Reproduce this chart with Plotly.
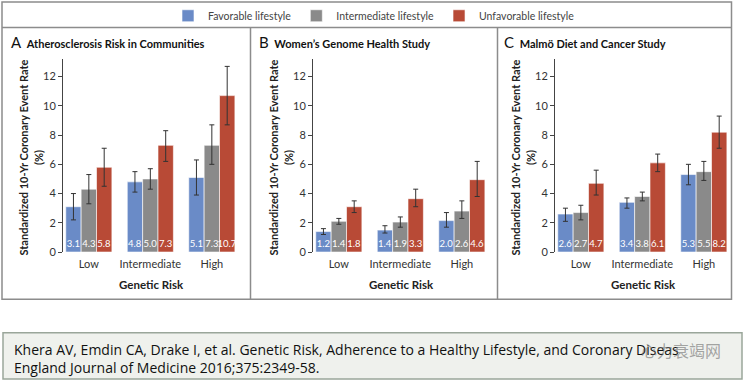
import plotly.graph_objects as go

W, H = 748, 388

categories = ["Low", "Intermediate", "High"]
series_names = ["Favorable lifestyle", "Intermediate lifestyle", "Unfavorable lifestyle"]
colors = ["#6a8bc7", "#8a8a8a", "#b84a36"]

panel_titles = ["Atherosclerosis Risk in Communities", "Women\u2019s Genome Health Study", "Malmö Diet and Cancer Study"]
panel_letters = ["A", "B", "C"]

# bar heights as drawn [panel][series][category]
heights_A = [[3.1, 4.8, 5.1], [4.3, 5.0, 7.3], [5.8, 7.3, 10.7]]
heights_B = [[1.4, 1.5, 2.15], [2.1, 2.05, 2.8], [3.1, 3.65, 4.95]]
heights_C = [[2.6, 3.4, 5.3], [2.7, 3.8, 5.5], [4.7, 6.1, 8.2]]

# printed labels
labels_A = [["3.1", "4.8", "5.1"], ["4.3", "5.0", "7.3"], ["5.8", "7.3", "10.7"]]
labels_B = [["1.2", "1.4", "2.0"], ["1.4", "1.9", "2.6"], ["1.8", "3.3", "4.6"]]
labels_C = [["2.6", "3.4", "5.3"], ["2.7", "3.8", "5.5"], ["4.7", "6.1", "8.2"]]

# error bar bounds
lo_A = [[2.2, 4.1, 3.9], [3.3, 4.3, 6.0], [4.5, 6.2, 8.7]]
hi_A = [[4.0, 5.5, 6.3], [5.3, 5.7, 8.7], [7.1, 8.3, 12.7]]
lo_B = [[1.2, 1.3, 1.7], [1.9, 1.7, 2.3], [2.7, 3.1, 3.8]]
hi_B = [[1.6, 1.8, 2.7], [2.3, 2.4, 3.5], [3.5, 4.3, 6.2]]
lo_C = [[2.1, 3.0, 4.6], [2.2, 3.5, 4.9], [3.9, 5.5, 7.1]]
hi_C = [[3.0, 3.7, 6.0], [3.2, 4.1, 6.2], [5.6, 6.7, 9.3]]

yticks = [0, 2, 4, 6, 8, 10, 12]
y_title = "Standardized 10-Yr Coronary Event Rate<br>(%)"
x_title = "Genetic Risk"
citation = ("Khera AV, Emdin CA, Drake I, et al. Genetic Risk, Adherence to a Healthy Lifestyle, and Coronary Diseas<br>"
            "England Journal of Medicine 2016;375:2349-58.")
watermark = "心力衰竭网"

panels = [
    (heights_A, labels_A, lo_A, hi_A),
    (heights_B, labels_B, lo_B, hi_B),
    (heights_C, labels_C, lo_C, hi_C),
]

def px(x):
    return x / W

def py(y):
    return 1 - y / H

FONT = "Lato, Open Sans, sans-serif"
axis_px = [63, 313, 555]
plot_w = 176.5
y_top, y_bot = 60, 256

fig = go.Figure()
for p, (hts, lbls, los, his) in enumerate(panels):
    xa = "x" if p == 0 else f"x{p+1}"
    ya = "y" if p == 0 else f"y{p+1}"
    for s in range(3):
        vals = hts[s]
        fig.add_trace(go.Bar(
            x=categories, y=vals, name=series_names[s],
            marker=dict(color=colors[s], line=dict(color="white", width=0.6)),
            text=lbls[s], textposition="inside", insidetextanchor="start",
            textangle=0, constraintext="none",
            textfont=dict(color="white", size=9.5, family=FONT),
            error_y=dict(type="data", symmetric=False,
                         array=[h - v for h, v in zip(his[s], vals)],
                         arrayminus=[v - l for l, v in zip(los[s], vals)],
                         color="#333333", thickness=1, width=2.5),
            xaxis=xa, yaxis=ya, showlegend=(p == 0), offsetgroup=str(s),
            hoverinfo="skip",
        ))

layout = dict(
    width=W, height=H, margin=dict(l=0, r=0, t=0, b=0),
    paper_bgcolor="white", plot_bgcolor="white",
    barmode="group", bargap=0.25, bargroupgap=0,
    font=dict(family=FONT, color="#333333"),
    showlegend=True,
    legend=dict(orientation="h", x=px(374), xanchor="center", y=py(16), yanchor="middle",
                font=dict(size=10.5, color="#444444", family=FONT), itemwidth=30,
                bgcolor="rgba(0,0,0,0)"),
)
annotations = []
shapes = []
for p in range(3):
    sfx = "" if p == 0 else str(p + 1)
    x0 = axis_px[p]
    layout["xaxis" + sfx] = dict(
        domain=[px(x0), px(x0 + plot_w)], range=[-0.42, 2.45], anchor="y" + sfx,
        showline=False, showgrid=False, zeroline=False, ticks="", ticklabelstandoff=4,
        tickfont=dict(size=11, color="#333333", family=FONT), fixedrange=True,
    )
    layout["yaxis" + sfx] = dict(
        domain=[py(y_bot), py(y_top)], range=[0, 13.2], anchor="x" + sfx,
        showline=True, linecolor="#444444", linewidth=1, showgrid=False, zeroline=False,
        ticks="outside", ticklen=4, tickcolor="#444444", tickvals=yticks,
        tickfont=dict(size=11, color="#333333", family=FONT), fixedrange=True,
    )
    annotations.append(dict(
        xref="x" + sfx + " domain", yref="paper", x=0.5, y=py(289),
        text=f"<b>{x_title}</b>", showarrow=False, xanchor="center", yanchor="middle",
        font=dict(size=11.5, color="#222222", family=FONT),
    ))
    annotations.append(dict(
        xref="paper", yref="paper", x=px(x0 - 32), y=py((y_top + y_bot) / 2 + 2),
        text=f"<b>{y_title}</b>", showarrow=False, textangle=-90, xanchor="center", yanchor="middle",
        font=dict(size=11, color="#222222", family=FONT),
    ))

title_px = [9, 257, 502]
for p in range(3):
    annotations.append(dict(
        xref="paper", yref="paper", x=px(title_px[p]), y=py(43),
        text=f"<span style='font-size:15px'>{panel_letters[p]}</span>&nbsp;&nbsp;<b>{panel_titles[p]}</b>",
        showarrow=False, xanchor="left", yanchor="middle",
        font=dict(size=11, color="#111111", family=FONT),
    ))

# frames
line_col = "#8c8c8c"
shapes.append(dict(type="rect", xref="paper", yref="paper", x0=px(2), x1=px(731.5), y0=py(304), y1=py(2),
                   line=dict(color=line_col, width=1.5), fillcolor="rgba(0,0,0,0)", layer="below"))
shapes.append(dict(type="line", xref="paper", yref="paper", x0=px(2), x1=px(731.5), y0=py(28), y1=py(28),
                   line=dict(color=line_col, width=1.5)))
for xv in [250.5, 497.5]:
    shapes.append(dict(type="line", xref="paper", yref="paper", x0=px(xv), x1=px(xv), y0=py(28), y1=py(304),
                       line=dict(color=line_col, width=1.5)))
# citation box
shapes.append(dict(type="rect", xref="paper", yref="paper", x0=px(3), x1=px(742), y0=py(385), y1=py(338),
                   line=dict(color="#9aa69a", width=1.5), fillcolor="#eff1ed", layer="below"))
annotations.append(dict(
    xref="paper", yref="paper", x=px(12), y=py(364), text=citation, showarrow=False,
    xanchor="left", yanchor="middle", align="left",
    font=dict(size=14, color="#111111", family="Open Sans, sans-serif"),
))
annotations.append(dict(
    xref="paper", yref="paper", x=px(723), y=py(355), text=watermark, showarrow=False,
    xanchor="right", yanchor="middle",
    font=dict(size=16, color="rgba(110,110,110,0.6)", family="Noto Sans CJK SC"),
))

layout["annotations"] = annotations
layout["shapes"] = shapes
fig.update_layout(**layout)
fig.write_html("out.html", config={"displayModeBar": False},
               post_script="document.body.style.margin='0';document.body.style.overflow='hidden';")
